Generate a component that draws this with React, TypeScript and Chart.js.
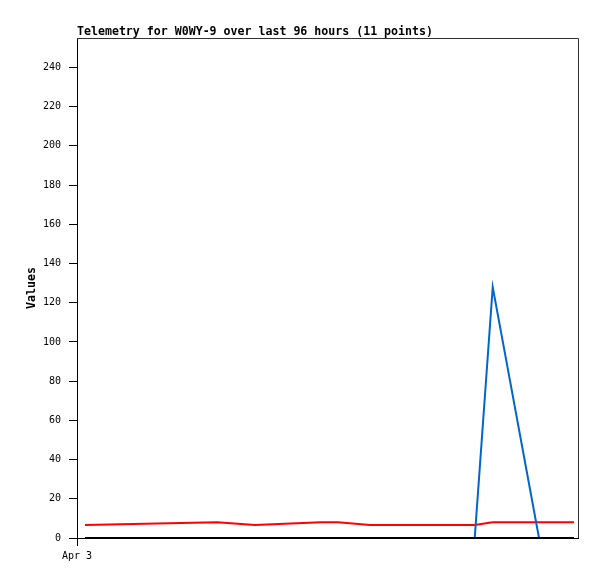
import React, { useEffect, useRef } from "react";
import { Chart, registerables } from "chart.js";

Chart.register(...registerables);

const TITLE = "Telemetry for W0WY-9 over last 96 hours (11 points)";
const Y_LABEL = "Values";
const X_TICK_LABEL = "Apr 3";

// time of each sample, in hours since the start of the axis
const hours = [1.53, 26.83, 34.11, 46.75, 50.01, 56.14, 65.72, 76.21, 79.66, 88.53, 95.23];
const redValues = [6.6, 8.0, 6.6, 8.0, 8.0, 6.6, 6.6, 6.6, 8.0, 8.0, 8.0];
const blueValues = [0, 0, 0, 0, 0, 0, 0, 0, 128, 0, 0];
const blackValues = [0, 0, 0, 0, 0, 0, 0, 0, 0, 0, 0];

const yTicks = [0, 20, 40, 60, 80, 100, 120, 140, 160, 180, 200, 220, 240];
const X_TICKS = [0];
const Y_MAX = 255;
const X_MAX = 96;

const MONO = "'DejaVu Sans Mono', monospace";

export default function App() {
  const ref = useRef<HTMLCanvasElement | null>(null);

  useEffect(() => {
    if (!ref.current) return;
    const toPts = (vals: number[]) => hours.map((h, i) => ({ x: h, y: vals[i] }));

    const framePlugin = {
      id: "frameAndTitle",
      beforeDatasetsDraw(chart: any) {
        const { ctx, chartArea } = chart;
        ctx.save();
        ctx.strokeStyle = "#333";
        ctx.lineWidth = 1;
        ctx.beginPath();
        ctx.moveTo(chartArea.left, chartArea.top + 0.5);
        ctx.lineTo(chartArea.right + 0.5, chartArea.top + 0.5);
        ctx.lineTo(chartArea.right + 0.5, chartArea.bottom);
        ctx.stroke();
        ctx.restore();
      },
      afterDraw(chart: any) {
        const { ctx, chartArea } = chart;
        ctx.save();
        ctx.fillStyle = "#000";
        ctx.font = `bold 11.6px ${MONO}`;
        ctx.textBaseline = "alphabetic";
        ctx.textAlign = "left";
        ctx.fillText(TITLE, chartArea.left, 34.5);
        ctx.restore();
      },
    };

    const chart = new Chart(ref.current, {
      type: "line",
      data: {
        datasets: [
          {
            data: toPts(blackValues),
            borderColor: "#000000",
            borderWidth: 2,
            pointRadius: 0,
            tension: 0,
            fill: false,
          },
          {
            data: toPts(blueValues),
            borderColor: "#0066cc",
            borderWidth: 2,
            pointRadius: 0,
            tension: 0,
            fill: false,
          },
          {
            data: toPts(redValues),
            borderColor: "#ff0000",
            borderWidth: 2,
            pointRadius: 0,
            tension: 0,
            fill: false,
          },
        ],
      },
      options: {
        responsive: false,
        animation: false,
        events: [],
        layout: { padding: { top: 38, right: 19, left: 0, bottom: 0 } },
        plugins: {
          legend: { display: false },
          tooltip: { enabled: false },
          title: { display: false },
        },
        scales: {
          x: {
            type: "linear",
            min: 0,
            max: X_MAX,
            position: "bottom",
            afterFit: (s: any) => {
              s.height = 41;
            },
            afterBuildTicks: (s: any) => {
              s.ticks = X_TICKS.map((v) => ({ value: v }));
            },
            ticks: {
              callback: () => X_TICK_LABEL,
              font: { family: MONO, size: 10 },
              color: "#000",
              padding: 4,
              maxRotation: 0,
              autoSkip: false,
            },
            grid: { drawOnChartArea: false, drawTicks: true, tickLength: 8, color: "#000", lineWidth: 1 },
            border: { display: true, color: "#000", width: 1 },
          },
          y: {
            type: "linear",
            min: 0,
            max: Y_MAX,
            afterFit: (s: any) => {
              s.width = 77;
            },
            afterBuildTicks: (s: any) => {
              s.ticks = yTicks.map((v) => ({ value: v }));
            },
            ticks: {
              font: { family: MONO, size: 10 },
              color: "#000",
              padding: 8,
              autoSkip: false,
            },
            grid: { drawOnChartArea: false, drawTicks: true, tickLength: 8, color: "#000", lineWidth: 1 },
            border: { display: true, color: "#000", width: 1 },
            title: {
              display: true,
              text: Y_LABEL,
              color: "#000",
              font: { family: MONO, size: 11.6, weight: "bold" },
              padding: { top: 25, bottom: 0 },
            },
          },
        },
      },
      plugins: [framePlugin],
    });
    return () => chart.destroy();
  }, []);

  return (
    <div style={{ position: "absolute", left: 0, top: 0, width: 597, height: 579, background: "#fff" }}>
      <canvas ref={ref} width={597} height={579} style={{ display: "block" }} />
    </div>
  );
}
